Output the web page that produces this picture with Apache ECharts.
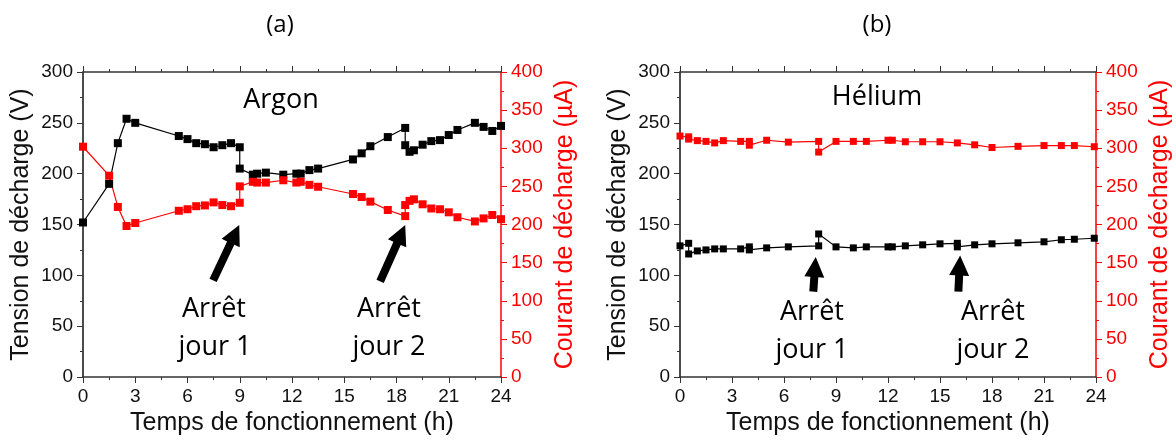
<!DOCTYPE html>
<html>
<head>
<meta charset="utf-8">
<script src="https://cdn.jsdelivr.net/npm/echarts@6/dist/echarts.min.js"></script>
<style>
  html, body { margin: 0; padding: 0; background: #fff; }
  #box { width: 1176px; height: 448px; }
</style>
</head>
<body>
<div id="box"></div>
<script>
// panel (a) argon : temps (h), tension (V), courant (uA)
var tempsA = [0, 1.5, 2, 2.5, 3, 5.5, 6, 6.5, 7, 7.5, 8, 8.5, 9, 9, 9.75, 10, 10.5, 11.5, 12.25, 12.5, 13, 13.5, 15.5, 16, 16.5, 17.5, 18.5, 18.5, 18.75, 19, 19.5, 20, 20.5, 21, 21.5, 22.5, 23, 23.5, 24];
var tensionA = [152, 190, 230, 254, 250, 237, 234, 230, 229, 226, 228, 230, 226, 205, 199, 200, 201, 199, 200, 200, 203.5, 205, 214, 220, 227, 236, 245, 228, 221.5, 223, 228.5, 232, 233, 238, 243, 250, 246, 242, 247];
var courantA = [302, 264, 223, 198, 202, 218, 220, 224, 225, 229, 225.5, 224, 228.5, 250, 256, 255, 255, 258, 255, 256, 252, 249.5, 240, 236, 230, 219, 211, 225.5, 231, 233, 226.5, 221, 220, 216, 209.5, 204, 208, 212.5, 207];

// panel (b) helium
var tempsB_V = [0, 0.5, 0.5, 1, 1.5, 2, 2.5, 3.5, 4, 4, 5, 6.25, 8, 8, 9, 10, 10.75, 12, 12.25, 13, 14, 15, 16, 16, 17, 18, 19.5, 21, 22, 22.75, 23.9];
var tensionB = [129, 131.5, 121, 124, 125, 126, 126, 126, 128, 125, 127, 128, 129, 140.7, 128, 127, 128, 128, 128, 129, 130, 131, 131.5, 128, 130, 131, 132, 133, 135, 135.5, 136.5];
var tempsB_I = [0, 0.5, 0.5, 1, 1.5, 2, 2.5, 3.5, 4, 4, 5, 6.25, 8, 8, 9, 10, 10.75, 12, 12.25, 13, 14, 15, 16, 17, 18, 19.5, 21, 22, 22.75, 23.9];
var courantB = [316, 315, 312, 310, 309, 307, 310, 309, 309, 304, 310.5, 308, 309, 295, 309, 309, 309, 310.5, 310.5, 308.5, 308.5, 308.5, 307, 304.5, 301, 302.5, 303.5, 303.5, 303.5, 302];

var xTicks = { min: 0, max: 24, interval: 3 };
var yLeft = { min: 0, max: 300, interval: 50 };
var yRight = { min: 0, max: 400, interval: 50 };

var fleches = [
  // [grille, queue [t, V], pointe [t, V]]
  [0, [7.47, 95], [8.97, 149.5]],
  [0, [17.06, 94], [18.5, 149.5]],
  [1, [7.69, 84], [7.83, 118]],
  [1, [16.06, 84], [16.16, 119.5]]
];

function pairs(t, v) {
  return t.map(function (x, k) { return [x, v[k]]; });
}

var AX = '#333';
var RED = '#ff0000';
var tickFont = { fontFamily: 'Liberation Sans', fontSize: 19, color: '#111' };
var nameFont = { fontFamily: 'Liberation Sans', fontSize: 25, color: '#111' };

function xBottom(g) {
  return {
    type: 'value', gridIndex: g, position: 'bottom',
    min: xTicks.min, max: xTicks.max, interval: xTicks.interval,
    name: 'Temps de fonctionnement (h)', nameLocation: 'middle', nameGap: 30,
    nameTextStyle: nameFont,
    axisLine: { show: true, onZero: false, lineStyle: { color: AX, width: 1.5 } },
    axisTick: { show: true, inside: false, length: 6, lineStyle: { color: AX } },
    minorTick: { show: true, splitNumber: 2, length: 3, lineStyle: { color: AX } },
    axisLabel: Object.assign({ margin: 10 }, tickFont),
    splitLine: { show: false }
  };
}
function xTop(g) {
  return {
    type: 'value', gridIndex: g, position: 'top',
    min: xTicks.min, max: xTicks.max, interval: xTicks.interval,
    axisLine: { show: true, onZero: false, lineStyle: { color: AX, width: 1.5 } },
    axisTick: { show: true, inside: false, length: 6, lineStyle: { color: AX } },
    minorTick: { show: true, splitNumber: 2, length: 3, lineStyle: { color: AX } },
    axisLabel: { show: false },
    splitLine: { show: false }
  };
}
function yL(g) {
  return {
    type: 'value', gridIndex: g, position: 'left',
    min: yLeft.min, max: yLeft.max, interval: yLeft.interval,
    name: 'Tension de décharge (V)', nameLocation: 'middle', nameGap: 49,
    nameTextStyle: nameFont,
    axisLine: { show: true, onZero: false, lineStyle: { color: '#111', width: 1.5 } },
    axisTick: { show: true, inside: false, length: 6, lineStyle: { color: AX } },
    minorTick: { show: true, splitNumber: 2, length: 3, lineStyle: { color: AX } },
    axisLabel: Object.assign({ margin: 10 }, tickFont),
    splitLine: { show: false }
  };
}
function yR(g) {
  return {
    type: 'value', gridIndex: g, position: 'right',
    min: yRight.min, max: yRight.max, interval: yRight.interval,
    name: 'Courant de décharge (µA)', nameLocation: 'middle', nameGap: 52,
    nameRotate: 90,
    nameTextStyle: { fontFamily: 'Liberation Sans', fontSize: 25, color: RED },
    axisLine: { show: true, onZero: false, lineStyle: { color: RED, width: 1.5 } },
    axisTick: { show: true, inside: false, length: 6, lineStyle: { color: RED } },
    minorTick: { show: true, splitNumber: 2, length: 3, lineStyle: { color: RED } },
    axisLabel: { margin: 10, fontFamily: 'Liberation Sans', fontSize: 19, color: RED },
    splitLine: { show: false }
  };
}

function serie(name, xi, yi, data, color, size) {
  return {
    name: name, type: 'line', xAxisIndex: xi, yAxisIndex: yi, data: data,
    symbol: 'rect', symbolSize: size, showSymbol: true,
    lineStyle: { color: color, width: 1.2 },
    itemStyle: { color: color },
    animation: false
  };
}

var myChart = echarts.init(document.getElementById('box'));
var option = {
  animation: false,
  grid: [
    { left: 83, top: 72, width: 418, height: 305 },
    { left: 680, top: 72, width: 416, height: 305 }
  ],
  xAxis: [xBottom(0), xTop(0), xBottom(1), xTop(1)],
  yAxis: [yL(0), yR(0), yL(1), yR(1)],
  series: [
    serie('Tension Ar', 0, 0, pairs(tempsA, tensionA), '#000', 8),
    serie('Courant Ar', 0, 1, pairs(tempsA, courantA), RED, 8),
    serie('Tension He', 2, 2, pairs(tempsB_V, tensionB), '#000', 7),
    serie('Courant He', 2, 3, pairs(tempsB_I, courantB), RED, 7)
  ]
};
myChart.setOption(option);

function texte(x, y, s, size) {
  return {
    type: 'text', x: x, y: y, silent: true,
    style: { text: s, fill: '#000', font: size + 'px "Open Sans", sans-serif', align: 'center', verticalAlign: 'middle' }
  };
}

var g = [
  texte(280, 25, '(a)', 24),
  texte(877, 25, '(b)', 24),
  texte(281, 100, 'Argon', 27),
  texte(877, 97, 'Hélium', 27),
  texte(214, 309, 'Arrêt', 27),
  texte(215, 347, 'jour 1', 27),
  texte(389, 309, 'Arrêt', 27),
  texte(389, 347, 'jour 2', 27),
  texte(812, 312, 'Arrêt', 27),
  texte(812, 350, 'jour 1', 27),
  texte(993, 312, 'Arrêt', 27),
  texte(993, 350, 'jour 2', 27)
];

fleches.forEach(function (f) {
  var xi = f[0] === 0 ? 0 : 2;
  var yi = f[0] === 0 ? 0 : 2;
  var p0 = myChart.convertToPixel({ xAxisIndex: xi, yAxisIndex: yi }, f[1]);
  var p1 = myChart.convertToPixel({ xAxisIndex: xi, yAxisIndex: yi }, f[2]);
  var dx = p1[0] - p0[0], dy = p1[1] - p0[1];
  var L = Math.sqrt(dx * dx + dy * dy);
  var ux = dx / L, uy = dy / L, nx = -uy, ny = ux;
  var hw = 4, hh = 10, hl = 20;
  var bx = p1[0] - ux * hl, by = p1[1] - uy * hl;
  g.push({
    type: 'polygon', silent: true,
    shape: {
      points: [
        [p0[0] + nx * hw, p0[1] + ny * hw],
        [bx + nx * hw, by + ny * hw],
        [bx + nx * hh, by + ny * hh],
        [p1[0], p1[1]],
        [bx - nx * hh, by - ny * hh],
        [bx - nx * hw, by - ny * hw],
        [p0[0] - nx * hw, p0[1] - ny * hw]
      ]
    },
    style: { fill: '#000' }
  });
});

myChart.setOption({ graphic: g });
</script>
</body>
</html>
